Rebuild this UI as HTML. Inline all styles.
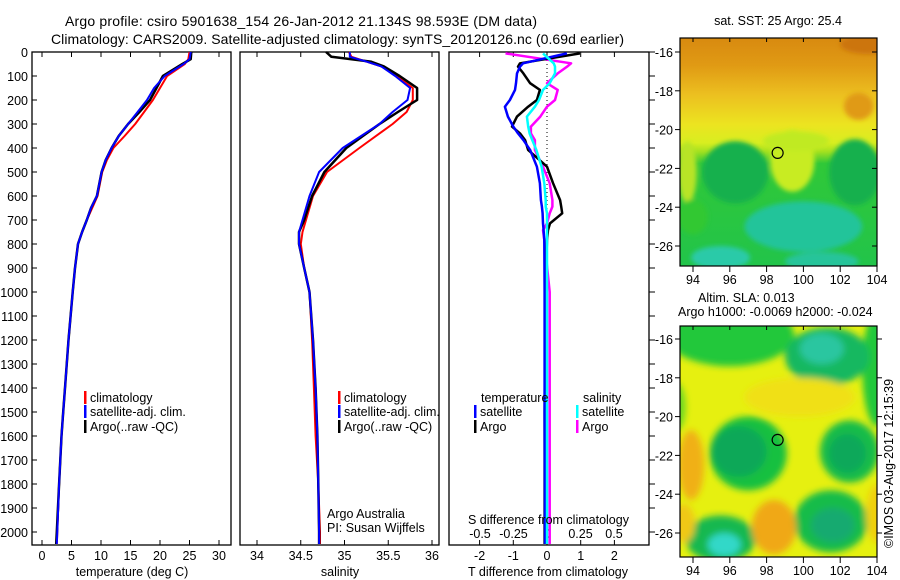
<!DOCTYPE html>
<html><head><meta charset="utf-8"><style>
body{margin:0;background:#fff;}
svg{display:block;font-family:"Liberation Sans",sans-serif;}
text{fill:#000;}
</style></head><body>
<svg id="fig" width="900" height="580" viewBox="0 0 900 580" xmlns="http://www.w3.org/2000/svg">
<defs>
<filter id="blur4" x="-20%" y="-20%" width="140%" height="140%"><feGaussianBlur stdDeviation="3.5"/></filter>
<filter id="blur2" x="-20%" y="-20%" width="140%" height="140%"><feGaussianBlur stdDeviation="2.5"/></filter>
<clipPath id="clipTop"><rect x="680" y="38" width="197" height="228"/></clipPath>
<clipPath id="clipBot"><rect x="680" y="326" width="197" height="231"/></clipPath>
<linearGradient id="sstGrad" x1="0" y1="0" x2="0" y2="1">
<stop offset="0" stop-color="#d88a10"/><stop offset="0.12" stop-color="#e09a14"/><stop offset="0.25" stop-color="#ecc020"/><stop offset="0.38" stop-color="#ece420"/><stop offset="0.46" stop-color="#d8ee20"/><stop offset="0.5" stop-color="#a0e020"/><stop offset="0.55" stop-color="#30c838"/><stop offset="1" stop-color="#22c44a"/>
</linearGradient>
</defs>
<text x="65" y="26" font-size="14" textLength="472">Argo profile: csiro 5901638_154 26-Jan-2012 21.134S 98.593E (DM data)</text>
<text x="51" y="44" font-size="14" textLength="573">Climatology: CARS2009. Satellite-adjusted climatology: synTS_20120126.nc (0.69d earlier)</text>
<g id="panels"></g>
<g id="maps"></g>
<text transform="translate(893,548) rotate(-90)" font-size="12.5">©IMOS 03-Aug-2017 12:15:39</text>
</svg>
<script>
// ---- data (depth in m) ----
const tDepth=[0,30,50,100,150,200,250,300,350,400,450,500,600,650,700,750,800,900,1000,1200,1400,1500,1600,1800,2000,2050];
const tArgo=[25.3,25.2,23.8,20.5,19.4,18.3,16.5,14.6,13.0,11.8,10.8,10.1,9.3,8.3,7.6,6.8,6.1,5.6,5.2,4.5,3.9,3.6,3.3,2.9,2.5,2.4];
const tClim=[25.0,24.8,24.2,21.2,20.0,18.8,17.3,15.8,14.0,12.1,11.0,10.2,9.4,8.5,7.6,6.8,6.1,5.6,5.2,4.5,3.9,3.6,3.3,2.9,2.6,2.5];
const tSat=[25.2,25.0,24.0,20.8,19.0,17.8,16.2,14.6,13.0,11.8,10.8,10.1,9.3,8.3,7.6,6.8,6.1,5.6,5.2,4.5,3.9,3.6,3.3,2.9,2.6,2.5];
const sDepth=[0,20,40,60,100,150,200,250,300,400,500,600,700,750,800,900,1000,1200,1400,1600,1800,2000,2050];
const sArgo=[34.79,34.85,35.30,35.45,35.63,35.83,35.83,35.61,35.40,35.02,34.77,34.63,34.54,34.48,34.48,34.54,34.60,34.64,34.67,34.69,34.70,34.71,34.71];
const sClim=[35.05,35.08,35.25,35.42,35.60,35.78,35.78,35.71,35.55,35.17,34.80,34.64,34.56,34.52,34.50,34.54,34.60,34.63,34.65,34.67,34.70,34.72,34.72];
const sSat=[35.06,35.06,35.25,35.42,35.58,35.75,35.72,35.55,35.40,34.98,34.71,34.60,34.52,34.48,34.48,34.54,34.60,34.64,34.67,34.69,34.70,34.71,34.71];
const dDepth=[6,47,61,89,130,158,200,228,269,311,339,367,408,478,547,617,644,672,714,742,783,1000,1500,2000,2050];
const dTArgo=[0.98,-0.80,-0.86,-0.70,-0.50,-0.21,-0.30,-0.56,-0.89,-1.04,-0.80,-0.65,-0.56,0,0.18,0.39,0.42,0.45,0.09,0.03,0,-0.05,-0.07,-0.07,-0.07];
const dTSat=[0.59,-0.71,-0.80,-0.89,-0.92,-0.95,-1.10,-1.25,-1.16,-1.00,-0.86,-0.70,-0.50,-0.30,-0.21,-0.18,-0.15,-0.13,-0.12,-0.10,-0.08,-0.07,-0.07,-0.06,-0.06];
const dSArgo=[-0.31,0.18,0.15,0.08,0,0.08,0.06,0,-0.05,-0.12,-0.12,-0.09,-0.09,-0.03,0.02,0.04,0.04,0.02,0,-0.03,-0.02,0.02,0.02,0.02,0.02];
const dSSat=[-0.03,0.05,0.06,0.06,0.02,-0.03,-0.06,-0.09,-0.15,-0.14,-0.13,-0.11,-0.08,-0.04,-0.02,-0.01,-0.01,0,0,0,0,0,0,0,0];
const depthTicks=[0,100,200,300,400,500,600,700,800,900,1000,1100,1200,1300,1400,1500,1600,1700,1800,1900,2000];
const tTicks=[0,5,10,15,20,25,30];
const sTicks=[34,34.5,35,35.5,36];
const sTickLabels=["34","34.5","35","35.5","36"];
const dTTicks=[-2,-1,0,1,2];
const dSTicks=[-0.5,-0.25,0,0.25,0.5];
const dSTickLabels=["-0.5","-0.25","0","0.25","0.5"];

const NS="http://www.w3.org/2000/svg";
const top0=52,bot=545;
const yD=d=>top0+d*0.24;
const xT=v=>42+v*5.9;
const xS=v=>257+(v-34)*87.5;
const xDT=v=>547+v*33.7;
const xDS=v=>547+v*134;
const P=document.getElementById('panels');
function mk(tag,at,parent){const e=document.createElementNS(NS,tag);for(const k in at)e.setAttribute(k,at[k]);(parent||P).appendChild(e);return e;}
function txt(x,y,s,anchor,size,parent){const e=mk('text',{x:x,y:y,'font-size':size||12.5,'text-anchor':anchor||'start'},parent);e.textContent=s;return e;}

const panels=[[32,231,'temperature-panel'],[240,439,'salinity-panel'],[449,649,'difference-panel']];
panels.forEach(p=>{
 const r=mk('rect',{x:p[0],y:top0,width:p[1]-p[0],height:bot-top0,fill:'none',stroke:'#000','stroke-width':1.3});
 
 
});
depthTicks.forEach(d=>{
 mk('line',{x1:32,x2:37,y1:yD(d),y2:yD(d),stroke:'#000'});
 const t=txt(28,yD(d)+5,String(d),'end');
 
 
});
function xticks(arr,labels,fx,ly){arr.forEach((v,i)=>{const x=fx(v);
 mk('line',{x1:x,x2:x,y1:top0,y2:top0+5,stroke:'#000'});
 mk('line',{x1:x,x2:x,y1:bot,y2:bot-5,stroke:'#000'});
 const t=txt(x,ly,labels[i],'middle');
 
 });}
xticks(tTicks,tTicks.map(String),xT,560);
xticks(sTicks,sTickLabels,xS,560);
xticks(dTTicks,dTTicks.map(String),xDT,560);
dSTicks.forEach((v,i)=>{const t=txt(xDS(v),538,dSTickLabels[i],'middle');
 
 });
depthTicks.forEach(d=>{mk('line',{x1:649,x2:655,y1:yD(d),y2:yD(d),stroke:'#000'});});
mk('line',{x1:547,x2:547,y1:top0,y2:bot,stroke:'#000','stroke-dasharray':'1,3','stroke-width':1});

function series(depths,vals,fx,color,w,name){
 const pts=depths.map((d,i)=>fx(vals[i]).toFixed(1)+','+yD(d).toFixed(1)).join(' ');
 const e=mk('polyline',{points:pts,fill:'none',stroke:color,'stroke-width':w,'stroke-linejoin':'round'});
 
 
}
series(tDepth,tClim,xT,'#ff0000',2,'temp-climatology-line');
series(tDepth,tArgo,xT,'#000',2.5,'temp-argo-line');
series(tDepth,tSat,xT,'#0000ff',2,'temp-satellite-line');
series(sDepth,sClim,xS,'#ff0000',2,'sal-climatology-line');
series(sDepth,sArgo,xS,'#000',2.5,'sal-argo-line');
series(sDepth,sSat,xS,'#0000ff',2,'sal-satellite-line');
series(dDepth,dSArgo,xDS,'#ff00ff',2.5,'sdiff-argo-line');
series(dDepth,dTArgo,xDT,'#000',2.5,'tdiff-argo-line');
series(dDepth,dTSat,xDT,'#0000ff',2.5,'tdiff-satellite-line');
series(dDepth,dSSat,xDS,'#00ffff',2.5,'sdiff-satellite-line');

function leg(x,y,color,label,name){mk('rect',{x:x,y:y-11,width:2.5,height:13,fill:color});
 const t=txt(x+6,y,label,'start',12.5);
 
 }
leg(84,402,'#ff0000','climatology','legend-climatology');
leg(84,416,'#0000ff','satellite-adj. clim.','legend-satellite');
leg(84,431,'#000','Argo(..raw -QC)','legend-argo');
leg(338,402,'#ff0000','climatology','legend-climatology-2');
leg(338,416,'#0000ff','satellite-adj. clim.','legend-satellite-2');
leg(338,431,'#000','Argo(..raw -QC)','legend-argo-2');
txt(481,402,'temperature');txt(583,402,'salinity');
leg(474,416,'#0000ff','satellite','legend-t-satellite');
leg(474,431,'#000','Argo','legend-t-argo');
leg(576,416,'#00ffff','satellite','legend-s-satellite');
leg(576,431,'#ff00ff','Argo','legend-s-argo');
txt(327,518,'Argo Australia');txt(327,532,'PI: Susan Wijffels');
txt(468,524,'S difference from climatology');
[[132,'temperature (deg C)','temp-axis-title'],[340,'salinity','sal-axis-title'],[548,'T difference from climatology','diff-axis-title']].forEach(a=>{
 const t=txt(a[0],576,a[1],'middle');
 
 });

// ---- maps ----
const M=document.getElementById('maps');
const lonX=l=>877-(104-l)*18.4;
function mapFrame(latTop,clip,name){
 const latY=l=>latTop+(-16-l)*19.4;
 const g=mk('g',{'clip-path':'url(#'+clip+')'},M);
 
 
 return {g,latY};
}
(function(){
 const {g,latY}=mapFrame(52,'clipTop','sst-map');
 mk('rect',{x:680,y:38,width:197,height:228,fill:'url(#sstGrad)'},g);
 const b=mk('g',{filter:'url(#blur2)'},g);
 const E=(lon,lat,rx,ry,c)=>mk('ellipse',{cx:lonX(lon),cy:latY(lat),rx:rx*18.4,ry:ry*19.4,fill:c},b);
 E(103.5,-15.6,1.5,0.5,'#cc7410');E(103,-18.8,0.8,0.7,'#e09a18');
 E(99.4,-21.6,1.2,1.6,'#c8ec20');E(93.7,-22.2,0.5,1.6,'#b8e428');E(99.6,-20.6,1.8,0.5,'#c0ea20');
 E(96.3,-22.2,1.8,1.6,'#14b04e');E(102.8,-22.2,1.4,1.7,'#14b04e');
 E(100,-25,3.2,1.3,'#22c49a');E(95.5,-26.6,1.6,0.6,'#2ccaa8');E(101,-26.8,2,0.5,'#26c49a');
 E(94,-24.5,0.8,0.9,'#30c830');
 const c=mk('circle',{cx:lonX(98.6),cy:latY(-21.2),r:5.5,fill:'none',stroke:'#000','stroke-width':1.2},M);
 
 
 mk('rect',{x:680,y:38,width:197,height:228,fill:'none',stroke:'#000','stroke-width':1.2},M);
 [-16,-18,-20,-22,-24,-26].forEach(l=>{mk('line',{x1:680,x2:675,y1:latY(l),y2:latY(l),stroke:'#000'},M);mk('line',{x1:877,x2:872,y1:latY(l),y2:latY(l),stroke:'#000'},M);txt(673,latY(l)+5,String(l),'end',12.5,M);});
 [94,96,98,100,102,104].forEach(l=>{mk('line',{x1:lonX(l),x2:lonX(l),y1:266,y2:272,stroke:'#000'},M);mk('line',{x1:lonX(l),x2:lonX(l),y1:38,y2:42,stroke:'#000'},M);txt(lonX(l),284,String(l),'middle',12.5,M);});
 txt(778,25,'sat. SST: 25 Argo: 25.4','middle',12.5,M);
})();
(function(){
 const {g,latY}=mapFrame(339,'clipBot','sla-map');
 mk('rect',{x:680,y:326,width:197,height:231,fill:'#e6f010'},g);
 const b=mk('g',{filter:'url(#blur4)'},g);
 const E=(lon,lat,rx,ry,c)=>mk('ellipse',{cx:lonX(lon),cy:latY(lat),rx:rx*18.4,ry:ry*19.4,fill:c},b);
 E(96,-15.8,3.5,1.6,'#22c83a');E(104,-17.5,0.8,3,'#22c83a');E(93,-19.5,0.6,1.3,'#6ad820');
 E(101.3,-16.9,2.3,1.5,'#12b860');E(101,-16.5,1.2,0.8,'#2cc6a0');
 E(93.9,-22.5,0.7,1.8,'#f0b014');E(99.8,-19,3,1,'#f0e014');
 E(97,-21.9,2.1,1.9,'#18c040');E(96.5,-21.8,1.5,1.3,'#10a858');
 E(102.5,-21.8,1.6,1.6,'#18bc48');E(102.4,-21.9,1,1,'#10a85a');
 E(101.5,-25.4,2,1.6,'#18bc48');E(101.6,-25.6,1.2,0.9,'#14aa70');
 E(95.5,-26.3,1.9,1.2,'#18b850');E(95.7,-26.6,0.9,0.6,'#30d8c8');
 E(98.4,-25.7,1.2,1.4,'#f0a818');E(104,-25,0.6,1.5,'#f0d010');E(93.5,-25.5,0.6,1,'#f0c814');
 const c=mk('circle',{cx:lonX(98.6),cy:latY(-21.2),r:5.5,fill:'none',stroke:'#000','stroke-width':1.2},M);
 
 
 mk('rect',{x:680,y:326,width:197,height:231,fill:'none',stroke:'#000','stroke-width':1.2},M);
 [-16,-18,-20,-22,-24,-26].forEach(l=>{mk('line',{x1:680,x2:675,y1:latY(l),y2:latY(l),stroke:'#000'},M);mk('line',{x1:877,x2:882,y1:latY(l),y2:latY(l),stroke:'#000'},M);txt(673,latY(l)+5,String(l),'end',12.5,M);});
 [94,96,98,100,102,104].forEach(l=>{mk('line',{x1:lonX(l),x2:lonX(l),y1:557,y2:563,stroke:'#000'},M);mk('line',{x1:lonX(l),x2:lonX(l),y1:326,y2:330,stroke:'#000'},M);txt(lonX(l),575,String(l),'middle',12.5,M);});
 txt(698,302,'Altim. SLA: 0.013','start',12.5,M);
 txt(678,316,'Argo h1000: -0.0069 h2000: -0.024','start',12.5,M);
})();
</script>
</body></html>
